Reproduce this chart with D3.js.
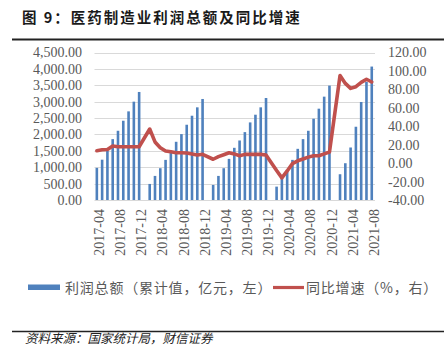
<!DOCTYPE html>
<html><head><meta charset="utf-8">
<script src="https://cdn.jsdelivr.net/npm/d3@7"></script>
<style>
html,body{margin:0;padding:0;background:#fff;}
svg{display:block;}
</style></head>
<body>
<svg id="c" width="444" height="347"></svg>
<script>
const months = [
"2017-04","2017-05","2017-06","2017-07","2017-08","2017-09","2017-10","2017-11","2017-12",
"2018-01","2018-02","2018-03","2018-04","2018-05","2018-06","2018-07","2018-08","2018-09","2018-10","2018-11","2018-12",
"2019-01","2019-02","2019-03","2019-04","2019-05","2019-06","2019-07","2019-08","2019-09","2019-10","2019-11","2019-12",
"2020-01","2020-02","2020-03","2020-04","2020-05","2020-06","2020-07","2020-08","2020-09","2020-10","2020-11","2020-12",
"2021-01","2021-02","2021-03","2021-04","2021-05","2021-06","2021-07","2021-08"];
const profit = [
980,1230,1500,1857,2112,2418,2704,3000,3296,
null,490,735,970,1224,1449,1776,2010,2296,2571,2827,3082,
null,459,735,970,1255,1592,1816,2071,2367,2602,2827,3112,
null,408,680,888,1224,1561,1857,2112,2480,2786,3153,3490,
null,786,1122,1602,2235,2990,3602,4071];
const growth = [
13.5,14.5,14.8,18.5,17.8,17.8,17.8,17.8,17.8,
null,37,23,16.7,13.1,12.4,11.3,11.3,11,9.9,8.8,9.6,
null,4.2,7,9.1,11.3,10,8,9.5,9.5,9.5,9.5,8.8,
null,-8,-16,-8.5,-0.5,2.5,4.5,6.5,8,8,10,12,
null,95,86.5,81.1,82.9,87.6,91,88];
const leftTicks = [0,500,1000,1500,2000,2500,3000,3500,4000,4500];
const rightTicks = [-40,-20,0,20,40,60,80,100,120];
const xLabels = months.filter((m,i)=>i%4===0);
const title = "图 9：医药制造业利润总额及同比增速";
const legendBar = "利润总额（累计值，亿元，左）";
const legendLine = "同比增速（%，右）";
const source = "资料来源：国家统计局，财信证券";

const svg = d3.select("#c");
const serif = "'Liberation Serif','Times New Roman',serif";
const cjk = "'Noto Sans CJK SC','Noto Sans',sans-serif";
const gray = "#595959";

const x = d3.scaleBand().domain(months).range([94.2, 374.4]).padding(0);
const yL = d3.scaleLinear().domain([0,4500]).range([200,52.5]);
const yR = d3.scaleLinear().domain([-40,120]).range([200,52.5]);

// title
svg.append("text").attr("x",22).attr("y",23).attr("font-family",cjk).attr("font-weight","bold")
  .attr("font-size",14.5).attr("letter-spacing","2px").attr("fill","#1a1a1a").text(title);
svg.append("line").attr("x1",12).attr("x2",444).attr("y1",39.5).attr("y2",39.5)
  .attr("stroke","#222").attr("stroke-width",2);

// grid
svg.append("g").selectAll("line").data(leftTicks).join("line")
  .attr("x1",94.5).attr("x2",375).attr("y1",d=>Math.round(yL(d))+0.5).attr("y2",d=>Math.round(yL(d))+0.5)
  .attr("stroke","#d9d9d9").attr("stroke-width",1);

// left axis
const fmtL = d3.format(",.2f");
const gL = svg.append("g").attr("transform","translate(94,0)")
  .call(d3.axisLeft(yL).tickValues(leftTicks).tickSize(0).tickPadding(12).tickFormat(fmtL));
gL.select(".domain").remove();
gL.selectAll("text").attr("font-family",serif).attr("font-size",14).attr("fill",gray);

// right axis
const gR = svg.append("g").attr("transform","translate(376,0)")
  .call(d3.axisRight(yR).tickValues(rightTicks).tickSize(0).tickPadding(12).tickFormat(d3.format(".2f")));
gR.select(".domain").remove();
gR.selectAll("text").attr("font-family",serif).attr("font-size",14).attr("fill",gray)
  .text(d=>d3.format(".2f")(d).replace("−","-"));

// bars
const bw = 2.6;
svg.append("g").selectAll("rect").data(months.map((m,i)=>({m,v:profit[i]})).filter(d=>d.v!=null)).join("rect")
  .attr("x",d=>x(d.m)+x.bandwidth()/2-bw/2).attr("width",bw)
  .attr("y",d=>yL(d.v)).attr("height",d=>yL(0)-yL(d.v)).attr("fill","#4F81BD");

// line
const pts = months.map((m,i)=>({m,v:growth[i]})).filter(d=>d.v!=null);
svg.append("path").datum(pts)
  .attr("d",d3.line().x(d=>x(d.m)+x.bandwidth()/2).y(d=>yR(d.v)))
  .attr("fill","none").attr("stroke","#C0504D").attr("stroke-width",3.6)
  .attr("stroke-linejoin","round").attr("stroke-linecap","round");

// x labels
svg.append("g").selectAll("text").data(xLabels).join("text")
  .attr("transform",d=>`translate(${x(d)+x.bandwidth()/2+2.2},209) rotate(-90)`)
  .attr("text-anchor","end").attr("dy","0.35em")
  .attr("font-family",serif).attr("font-size",14).attr("fill",gray).text(d=>d);

// legend
svg.append("rect").attr("x",28).attr("y",284.5).attr("width",32).attr("height",5.5).attr("fill","#4F81BD");
svg.append("text").attr("x",65).attr("y",292.5).attr("font-family",cjk).attr("font-size",14)
  .attr("letter-spacing","0.8px").attr("fill",gray).text(legendBar);
svg.append("line").attr("x1",273).attr("x2",304).attr("y1",287.5).attr("y2",287.5)
  .attr("stroke","#C0504D").attr("stroke-width",3.2);
svg.append("text").attr("x",306).attr("y",292.5).attr("font-family",cjk).attr("font-size",14)
  .attr("letter-spacing","0.8px").attr("fill",gray).text(legendLine);

// footer
svg.append("line").attr("x1",12).attr("x2",444).attr("y1",331.5).attr("y2",331.5)
  .attr("stroke","#222").attr("stroke-width",1.5);
svg.append("text").attr("x",25).attr("y",342.5).attr("font-family",cjk).attr("font-size",12.5)
  .attr("font-style","italic").attr("fill","#222").text(source);
</script>
</body></html>
